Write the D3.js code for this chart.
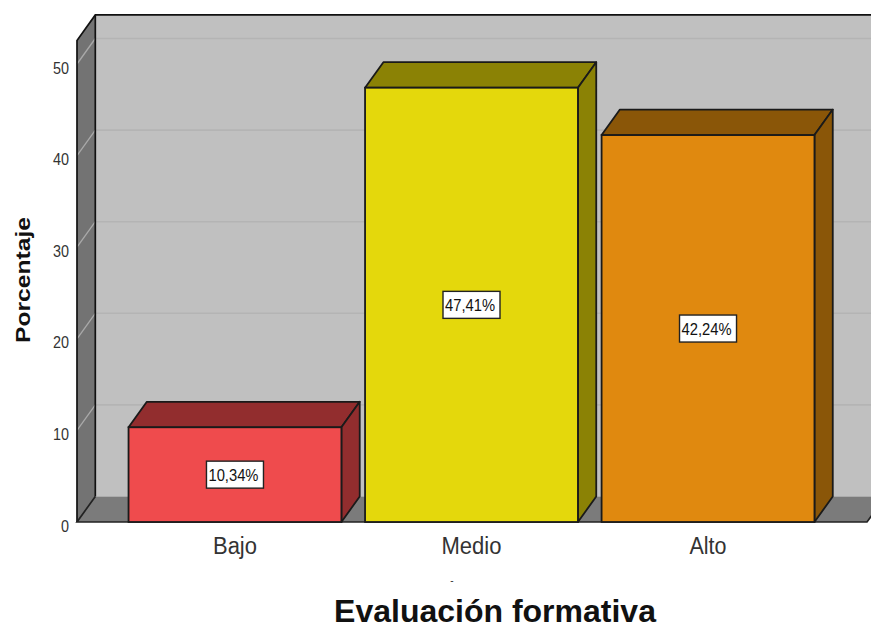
<!DOCTYPE html>
<html>
<head>
<meta charset="utf-8">
<script src="https://cdn.jsdelivr.net/npm/d3@7"></script>
<style>
  html, body { margin: 0; padding: 0; background: #fff; overflow: hidden; }
  text { font-family: "Liberation Sans", Arial, sans-serif; }
</style>
</head>
<body>
<div id="main"></div>
<script>
const categories = ["Bajo", "Medio", "Alto"];
const percentages = [10.34, 47.41, 42.24];
const valueLabels = ["10,34%", "47,41%", "42,24%"];
const yTicks = [0, 10, 20, 30, 40, 50];
const frontColors = ["#ef4b4d", "#e4d80c", "#e0890f"];
const topColors = ["#922d2e", "#8b8205", "#8a5608"];
// the original font is a narrow one, so widths are forced
const categoryWidths = [44, 60, 37];

const ctx = { w: 871, h: 626, depthX: 18.3, depthY: 25.5 };

const svg = d3.select("#main").append("svg")
    .attr("width", ctx.w)
    .attr("height", ctx.h)
    .style("display", "block");

const x = d3.scaleBand()
    .domain(categories)
    .range([76.5, 866.5])
    .paddingInner(0.1)
    .paddingOuter(0.22);

const y = d3.scaleLinear()
    .domain([0, 50])
    .range([522, 64]);

const yMax = 52.57; // top of the box, slightly over the last tick
const left = 77, right = 867;
const dx = ctx.depthX, dy = ctx.depthY;

// 3D box: back wall, left wall, floor
const box = svg.append("g");
box.append("rect")
    .attr("x", left + dx).attr("y", y(yMax) - dy)
    .attr("width", right - left).attr("height", y(0) - y(yMax))
    .attr("fill", "#c0c0c0");
box.append("path")
    .attr("d", `M${left},${y(0)}L${left},${y(yMax)}L${left + dx},${y(yMax) - dy}L${left + dx},${y(0) - dy}Z`)
    .attr("fill", "#737373");
box.append("path")
    .attr("d", `M${left},${y(0)}L${left + dx},${y(0) - dy}L${right + dx},${y(0) - dy}L${right},${y(0)}Z`)
    .attr("fill", "#7b7b7b");

// grid lines run up the side wall, then across the back
yTicks.filter(d => d > 0).forEach(d => {
    box.append("line")
        .attr("x1", left).attr("y1", y(d))
        .attr("x2", left + dx).attr("y2", y(d) - dy)
        .attr("stroke", "#a9a9a9").attr("stroke-width", 1.3);
    box.append("line")
        .attr("x1", left + dx).attr("y1", y(d) - dy)
        .attr("x2", right + dx).attr("y2", y(d) - dy)
        .attr("stroke", "#b4b4b4").attr("stroke-width", 1.6);
});

// box outline
box.append("path")
    .attr("d", `M${left},${y(0)}L${left},${y(yMax)}L${left + dx},${y(yMax) - dy}L${right + dx},${y(yMax) - dy}`)
    .attr("fill", "none").attr("stroke", "#111").attr("stroke-width", 1.7);
box.append("line")
    .attr("x1", left + dx).attr("y1", y(yMax) - dy)
    .attr("x2", left + dx).attr("y2", y(0) - dy)
    .attr("stroke", "#111").attr("stroke-width", 1.7);
box.append("path")
    .attr("d", `M${left + dx},${y(0) - dy}L${left},${y(0)}L${right},${y(0)}L${right + dx},${y(0) - dy}`)
    .attr("fill", "none").attr("stroke", "#222").attr("stroke-width", 1.7);

// bars
const data = categories.map((c, i) => ({
    c, v: percentages[i], label: valueLabels[i], front: frontColors[i], top: topColors[i]
}));

const bars = svg.append("g").selectAll("g")
    .data(data)
    .enter().append("g");

bars.append("path") // top face
    .attr("d", d => {
        const x0 = x(d.c), x1 = x0 + x.bandwidth();
        return `M${x0},${y(d.v)}L${x0 + dx},${y(d.v) - dy}L${x1 + dx},${y(d.v) - dy}L${x1},${y(d.v)}Z`;
    })
    .attr("fill", d => d.top)
    .attr("stroke", "#1a1a1a").attr("stroke-width", 1.8).attr("stroke-linejoin", "round");

bars.append("path") // side face
    .attr("d", d => {
        const x1 = x(d.c) + x.bandwidth();
        return `M${x1},${y(d.v)}L${x1 + dx},${y(d.v) - dy}L${x1 + dx},${y(0) - dy}L${x1},${y(0)}Z`;
    })
    .attr("fill", d => d.top)
    .attr("stroke", "#1a1a1a").attr("stroke-width", 1.8).attr("stroke-linejoin", "round");

bars.append("rect")
    .attr("x", d => x(d.c))
    .attr("y", d => y(d.v))
    .attr("width", x.bandwidth())
    .attr("height", d => y(0) - y(d.v))
    .attr("fill", d => d.front)
    .attr("stroke", "#1a1a1a").attr("stroke-width", 1.8);

// value labels
bars.append("rect")
    .attr("x", d => x(d.c) + x.bandwidth() / 2 - 28.5)
    .attr("y", d => (y(0) + y(d.v)) / 2 - 13.5)
    .attr("width", 57)
    .attr("height", 27)
    .attr("fill", "#fff")
    .attr("stroke", "#222").attr("stroke-width", 1.4);

bars.append("text")
    .attr("x", d => x(d.c) + x.bandwidth() / 2 - 1.5)
    .attr("y", d => (y(0) + y(d.v)) / 2 + 6)
    .attr("text-anchor", "middle")
    .attr("font-size", 16)
    .attr("textLength", 50)
    .attr("lengthAdjust", "spacingAndGlyphs")
    .attr("fill", "#111")
    .text(d => d.label);

// axes
const yAxis = d3.axisLeft(y).tickValues(yTicks).tickSize(0).tickPadding(8).tickFormat(d3.format("d"));
const yG = svg.append("g").attr("transform", `translate(${left},0)`).call(yAxis);
yG.select(".domain").remove();
yG.selectAll("text")
    .attr("font-size", 17)
    .attr("dy", 9)
    .attr("textLength", d => d === 0 ? 8 : 16)
    .attr("lengthAdjust", "spacingAndGlyphs")
    .attr("fill", "#333")
    .style("font-family", '"Liberation Sans"');

const xAxis = d3.axisBottom(x).tickSize(0).tickPadding(15.5);
const xG = svg.append("g").attr("transform", `translate(0,${y(0)})`).call(xAxis);
xG.select(".domain").remove();
xG.selectAll("text")
    .attr("font-size", 23)
    .attr("textLength", (d, i) => categoryWidths[i])
    .attr("lengthAdjust", "spacingAndGlyphs")
    .attr("fill", "#333")
    .style("font-family", '"Liberation Sans"');

// titles
svg.append("text")
    .attr("transform", "translate(30,280) rotate(-90)")
    .attr("text-anchor", "middle")
    .attr("font-size", 20)
    .attr("font-weight", "bold")
    .attr("textLength", 126)
    .attr("lengthAdjust", "spacingAndGlyphs")
    .attr("fill", "#111")
    .text("Porcentaje");

svg.append("text")
    .attr("x", 495)
    .attr("y", 622)
    .attr("text-anchor", "middle")
    .attr("font-size", 32)
    .attr("font-weight", "bold")
    .attr("fill", "#111")
    .text("Evaluación formativa");

svg.append("text")
    .attr("x", 452)
    .attr("y", 584)
    .attr("text-anchor", "middle")
    .attr("font-size", 10)
    .attr("fill", "#333")
    .text("-");
</script>
</body>
</html>
